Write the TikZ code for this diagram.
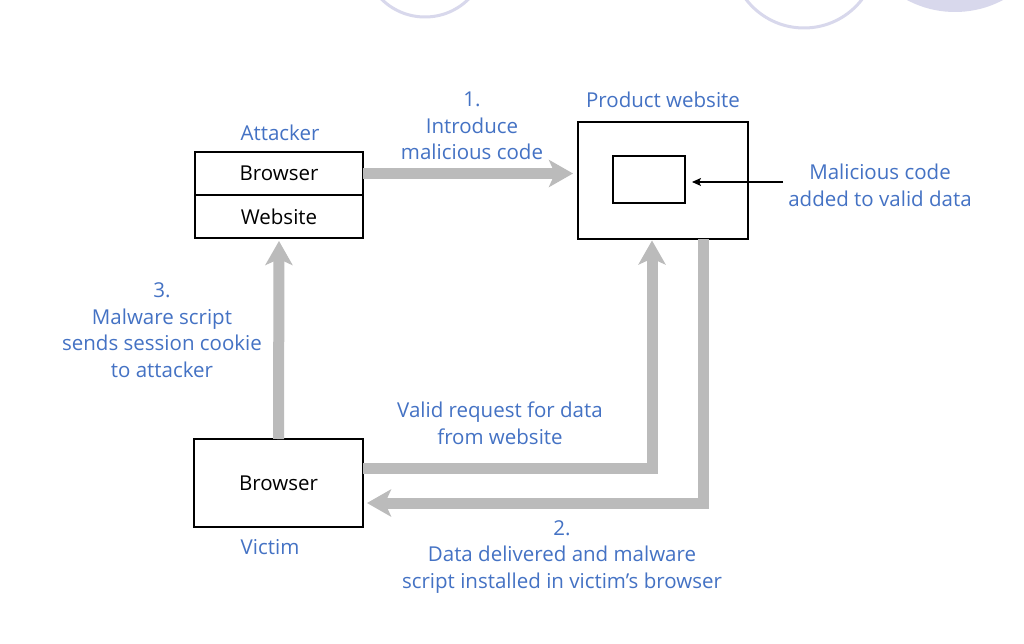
\documentclass[tikz,border=0pt]{standalone}
\usepackage{fontspec}
\setmainfont{Open Sans}
\usetikzlibrary{arrows.meta}
\definecolor{lblblue}{RGB}{68,114,196}
\definecolor{arrgray}{RGB}{187,187,187}
\definecolor{lav}{RGB}{216,216,236}
\tikzset{
  box/.style={draw=black, line width=2.8pt, fill=white, minimum width=#1, outer sep=0pt, inner sep=0pt, font=\fontsize{20.5}{25}\selectfont},
  lbl/.style={text=lblblue, align=center, inner sep=0pt, font=\fontsize{20.5}{26.5}\selectfont},
  flow/.style={draw=arrgray, line width=11pt, line join=miter, -{Stealth[length=24pt,width=27pt,inset=6pt]}},
  pointer/.style={draw=black, line width=1.1pt, -{Stealth[length=9pt,width=8pt,inset=2pt]}},
  deco/.style={draw=lav, line width=3pt}
}
\begin{document}
\begin{tikzpicture}[x=1pt,y=-1pt]
\useasboundingbox (0,0) rectangle (1024,644);
\fill[white] (0,0) rectangle (1024,644);
\begin{scope}
\clip (0,0) rectangle (1024,644);
\draw[deco] (425,-45) circle[radius=62];
\draw[deco] (804,-45) circle[radius=73];
\fill[lav] (955,-90) circle[radius=102];
\end{scope}

% boxes
\node[box=168pt, minimum height=43pt] (abrowser) at (279,173.5) {Browser};
\node[box=168pt, minimum height=43pt] (aweb) at (279,216.5) {Website};
\node[box=170pt, minimum height=117pt] (prod) at (663,180.5) {};
\node[box=72pt, minimum height=47pt, line width=2.4pt] (inner) at (649,179.5) {};
\node[box=169pt, minimum height=88pt] (victim) at (278.5,483) {Browser};

% labels
\node[lbl] (attl) at (280,133) {Attacker};
\node[lbl] (prodl) at (663,100) {Product website};
\node[lbl] (l1) at (472,126) {1.\\Introduce\\malicious code};
\node[lbl] (mcl) at (880,185.5) {Malicious code\\added to valid data};
\node[lbl] (l3) at (162,330) {3.\\Malware script\\sends session cookie\\to attacker};
\node[lbl] (reql) at (500,423.5) {Valid request for data\\from website};
\node[lbl] (l2) at (562,557) {2.\\Data delivered and malware\\script installed in victim’s browser};
\node[lbl] (victl) at (270,547) {Victim};

% flows
\draw[flow] (abrowser.east) -- ([xshift=-5pt]prod.west |- abrowser.east);
\draw[flow] ([yshift=15pt]victim.east) -| ([xshift=-11pt,yshift=-1.5pt]prod.south);
\draw[flow] ([xshift=40pt]prod.south) |- ([xshift=4pt,yshift=-20pt]victim.east);
\draw[flow] (victim.north) -- ([yshift=-3pt]aweb.south);

% pointer
\coordinate (mc) at (783,182);
\path (mc -| inner.east) coordinate (mctip);
\draw[pointer] (mc) -- ([xshift=7pt]mctip);
\end{tikzpicture}
\end{document}
